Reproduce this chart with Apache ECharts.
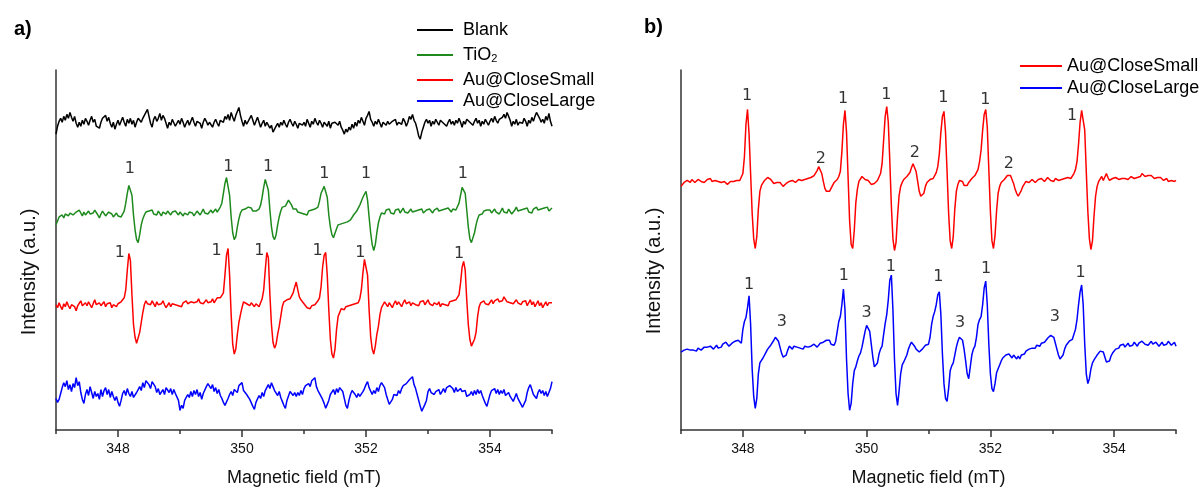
<!DOCTYPE html>
<html>
<head>
<meta charset="utf-8">
<script src="https://cdn.jsdelivr.net/npm/echarts@6/dist/echarts.min.js"></script>
<style>
  html, body { margin: 0; padding: 0; background: #ffffff; }
  #chart { width: 1199px; height: 492px; }
</style>
</head>
<body>
<div id="chart"></div>
<script>
// EPR spectra (DMPO spin adducts), two panels, stacked traces.
// Field grid: 347–355 mT sampled every 0.025 mT (321 points per trace).
const FIELD_START = 347;
const FIELD_END = 355;
const FIELD_STEP = 0.025;

const fieldTickValues = [348, 350, 352, 354];
const fieldMinorTickValues = [347, 349, 351, 353, 355];

const namesA = ['Blank', 'TiO2', 'Au@CloseSmall', 'Au@CloseLarge'];
const namesB = ['Au@CloseSmall', 'Au@CloseLarge'];
const colorsA = ['#000000', '#1e8a1e', '#ff0000', '#0000ff'];
const colorsB = ['#ff0000', '#0000ff'];

// vertical stacking offsets of each trace (intensity, a.u.)
const offsetsA = [310, 218, 127, 35];
const offsetsB = [252, 82];

// ---- panel a ----
const blankA = [
  -10,-2,3,6,2,8,4,10,6,12, 7,3,8,1,-3,2,-2,4,0,6, 3,-1,4,8,2,5,-2,0,-4,2, 6,4,9,3,7,1,-3,2,-5,0,
  4,-1,3,7,2,-2,5,1,6,0, 4,-3,2,6,5,2,6,9,12,15, 8,1,-3,5,8,3,6,11,4,9, 6,1,-4,2,-1,5,3,-2,1,4,
  0,6,2,-3,1,4,-1,3,7,2, -2,3,5,1,-4,2,6,3,-1,2, 0,-3,2,5,1,-2,4,6,2,8, 5,10,4,12,7,3,9,13,17,9,
  3,-2,4,0,2,6,9,4,-1,3, 7,2,-3,1,4,-2,2,0,-4,-1, -8,-5,-2,1,-3,2,-1,4,0,-3, 2,5,1,-2,3,0,-4,1,3,-1,
  2,-2,5,1,-3,3,0,6,2,-1, 4,1,-3,2,0,-2,3,-4,1,-1, 2,4,-1,3,-3,-6,-10,-5,-8,-3, -6,0,-4,2,-2,4,1,7,3,-1,
  6,9,13,5,2,-2,3,0,5,1, -3,2,4,-1,3,0,-2,3,1,5, -1,2,4,0,6,3,-2,2,8,5, 10,4,1,-5,-12,-15,-8,-3,2,5,
  1,4,-2,3,0,5,2,-1,4,6, 1,3,-2,2,5,0,3,-1,4,1, 6,2,-3,3,0,5,7,2,4,-1, 3,6,1,4,-2,3,0,5,2,-1,
  3,6,2,8,4,1,5,3,7,10, 6,12,8,4,-2,3,0,5,-1,2, 4,1,6,3,-2,4,1,7,3,8, 12,14,6,2,5,1,8,4,11,3,
  -2
];

const tio2A = [
  -10,-6,-2,-4,0,-3,1,3,-1,2, 4,0,-2,3,1,5,2,-1,3,0, -2,4,1,-1,2,5,3,0,-3,1, 4,2,-1,0,3,5,1,-2,0,2,
  -1,1,-2,0,4,12,22,30,32,20, 0,-15,-25,-28,-20,-10,-4,0,3,1, 4,2,5,1,3,0,4,2,-1,3, 5,1,4,2,0,3,1,4,2,0,
  3,1,-1,2,4,0,3,5,2,-1, 1,4,2,0,3,6,2,4,1,3, 5,2,4,6,3,5,8,12,22,32, 38,36,20,-2,-18,-25,-22,-12,-4,2,
  5,3,6,4,8,10,7,4,2,4, 3,6,10,18,28,36,37,25,5,-12, -22,-25,-20,-10,-2,4,8,6,9,12, 15,14,10,6,4,6,3,5,2,4,
  1,3,0,4,2,5,3,6,4,8, 14,22,24,29,30,18,0,-12,-20,-23, -21,-14,-10,-12,-9,-11,-8,-10,-7,-9, -5,-3,0,2,4,7,10,14,18,21,
  24,15,-2,-18,-30,-36,-30,-18,-8,-2, 2,4,1,5,3,6,2,4,1,5, 3,6,2,4,7,3,5,2,4,6, 3,1,4,2,5,3,6,2,4,5,
  3,6,4,2,5,3,7,4,2,5, 3,6,4,7,5,3,6,8,5,7, 12,20,28,30,22,5,-12,-24,-28,-26, -18,-10,-4,0,2,1,4,2,5,3,
  5,2,4,6,3,5,1,4,7,3, 5,2,6,4,1,3,5,8,4,2, 5,3,6,4,7,3,5,2,6,4, 8,5,3,6,4,7,5,8,4,6,
  7
];

const smallA = [
  0,-3,2,-2,-5,1,-2,3,-1,-4, 0,2,-2,-6,-1,1,4,-1,-3,2, -1,3,0,-3,1,5,0,-2,2,-1, 0,3,-2,1,-1,2,-3,0,1,-2,
  1,-1,3,5,7,15,35,52,45,10, -20,-33,-39,-37,-28,-18,-8,0,4,1, 3,0,4,2,-2,3,0,-2,1,4, 0,-3,-1,2,-2,1,3,0,2,-1,
  1,-2,2,0,4,1,-1,3,5,2, 0,3,6,2,4,1,3,5,2,4, 3,6,2,4,7,5,7,7,12,30, 50,57,30,-10,-40,-50,-45,-30,-18,-10,
  -3,3,5,1,3,-1,2,0,-2,1, -1,-2,2,6,15,35,53,48,10,-20, -38,-44,-40,-30,-22,-12,-2,3,2,5, 3,6,8,12,18,23,15,8,5,3,
  1,-1,-3,-2,-4,-1,-3,0,2,4, 7,18,38,50,53,30,-5,-35,-50,-54, -45,-25,-12,-8,-4,-3,-5,-2,-4,-1, -3,0,-2,1,3,2,6,15,32,46,
  48,30,-5,-32,-45,-50,-42,-30,-22,-10, -3,0,3,1,-2,2,0,-3,1,4, 0,3,1,-2,2,5,1,0,3,-1, 2,4,0,2,-1,3,1,4,0,2,
  5,1,3,-1,2,4,0,3,-2,1, 3,0,2,-1,3,1,4,2,5,7, 10,22,38,44,35,5,-20,-35,-42,-43, -35,-28,-12,-2,2,0,4,1,3,0,
  2,5,1,4,2,6,3,5,4,8, 6,3,5,2,4,1,3,5,2,4, 0,3,1,4,-1,2,5,0,3,-2, 1,4,-1,2,-3,0,3,-1,2,4,
  2
];

const largeA = [
  -3,-7,-4,2,8,13,9,15,6,11, 4,12,8,18,10,14,3,-4,-8,1, 6,0,9,3,-3,4,-1,2,-4,6, -1,5,8,1,6,-2,4,-1,-5,-1,
  -7,-11,-5,2,5,0,7,2,-1,4, -2,-4,3,6,9,5,13,8,15,17, 11,7,14,12,9,3,7,1,-1,6, 1,8,10,3,7,1,6,2,3,-5,
  -15,-10,-13,-5,-7,1,-2,4,-1,5, 1,6,-1,3,-4,2,4,9,12,14, 7,11,4,8,2,6,0,-3,-7,-10, -12,-3,1,4,0,6,8,3,10,12,
  13,5,7,1,2,-4,-6,-11,-14,-7, -5,0,-3,3,-1,5,8,11,7,13, 9,5,3,0,4,-2,-6,-10,-13,-5, -3,4,2,0,3,-1,3,0,5,1,
  7,10,8,12,9,15,13,18,9,5, 3,-1,-4,-8,-13,-9,-5,1,2,6, 1,7,3,8,7,4,-3,-10,-13,-5, 1,5,7,1,-2,2,-1,-3,4,7,
  11,14,8,6,1,5,2,8,4,10, 13,11,8,1,-4,-9,-11,-4,1,2, 0,5,2,7,10,9,12,10,16,14, 19,11,7,1,-5,-11,-16,-18,-9,-5,
  4,7,3,5,1,4,2,6,1,4, 7,3,8,6,10,8,7,3,8,4, 2,7,4,3,5,-1,-3,1,4,0, 5,1,6,2,5,0,-4,-8,-11,-5,
  1,5,3,7,2,6,1,5,2,6, 0,-2,3,-1,-3,-6,-2,2,-3,-5, -9,-12,-14,-5,3,8,11,6,1,-1, -3,3,6,2,5,0,4,-1,3,7,
  14
];

// ---- panel b ----
const smallB = [
  -5,-3,-1,-2,1,0,-1,2,1,-1, 0,2,3,0,1,-1,0,2,1,3, 0,-1,1,2,0,-2,-1,1,0,-1, -3,-1,0,1,0,2,1,0,1,3,
  8,25,58,73,48,8,-32,-58,-68,-56, -28,-10,-4,-2,1,3,4,5,2,0, -2,-4,-1,-3,-1,-3,-5,-4,-2,-1, 0,-2,1,0,-1,1,2,0,1,3,
  2,1,3,2,4,3,6,8,11,15, 14,8,0,-7,-10,-11,-10,-7,-4,-1, 0,2,5,10,30,58,72,50,5,-40, -64,-68,-50,-22,-8,0,2,5,3,2,
  4,1,-1,-3,-4,-2,0,1,3,8, 18,42,66,76,60,20,-25,-58,-70,-62, -35,-14,-5,-1,2,4,5,6,9,14, 18,17,10,0,-10,-15,-17,-12,-5,-1,
  0,2,1,3,5,9,15,28,50,66, 71,50,10,-32,-60,-68,-56,-28,-10,-3, 1,2,0,-4,-6,-4,-1,1,3,4, 6,8,12,20,32,52,68,73,55,12,
  -30,-60,-68,-55,-30,-12,-5,-1,1,2, 4,6,8,6,2,-2,-8,-12,-15,-14, -9,-5,-3,0,1,-1,0,2,1,-1, 0,2,1,3,2,0,2,4,3,1,
  2,0,3,2,1,3,2,1,3,2, 4,2,3,5,8,12,20,38,60,72, 74,52,10,-30,-58,-69,-60,-35,-15,-5, 0,2,5,1,3,8,4,1,2,3,
  2,4,3,2,4,3,1,3,4,2, 3,5,4,3,5,4,6,5,8,6, 5,7,6,4,6,5,3,5,4,2, 4,3,1,2,3,0,-1,1,2,0,
  1
];

const largeB = [
  -3,-4,-1,-3,0,-2,-1,1,-1,0, -2,1,0,-1,1,2,0,2,1,3, 1,0,2,4,1,3,2,5,4,7, 5,3,5,6,4,8,7,9,8,6,
  20,28,32,42,54,25,-20,-48,-60,-50, -25,-14,-12,-9,-7,-3,0,2,4,6, 9,12,13,8,2,-4,-8,-10,-6,-1, 3,2,0,3,1,2,4,1,2,0,
  3,1,2,0,3,2,5,3,2,4, 6,5,7,8,9,7,9,5,3,4, 8,18,28,33,45,61,40,-10,-45,-62, -55,-35,-22,-18,-12,-7,-4,2,10,18,
  24,25,18,5,-8,-18,-20,-14,-5,0, 3,15,26,35,50,70,75,40,-10,-45, -57,-42,-25,-16,-13,-11,-6,0,4,7, 6,3,0,-1,-3,-2,0,2,4,3,
  5,12,25,33,38,45,55,58,35,-5, -35,-50,-53,-40,-22,-17,-14,-6,2,8, 12,13,9,0,-12,-25,-30,-18,-6,0, 3,12,25,30,33,45,62,69,45,5,
  -25,-40,-43,-35,-24,-20,-16,-12,-9,-7, -6,-8,-5,-7,-9,-6,-8,-10,-7,-10, -6,-4,-5,-2,-3,0,-1,1,2,1, 4,5,3,6,8,7,9,11,13,14,
  15,12,6,0,-6,-10,-11,-6,0,4, 6,8,7,10,12,20,30,45,58,65, 45,5,-25,-35,-30,-20,-14,-11,-9,-6, -4,-2,-1,-3,-8,-13,-15,-12,-7,-4,
  -3,0,2,1,4,3,5,2,4,6, 3,5,4,7,5,3,6,4,8,6, 5,7,4,6,8,5,4,7,6,3, 5,7,4,6,5,8,6,4,6,7,
  3
];

// peak assignments: [field (mT), height above the trace baseline, text]
const peakLabelsTio2A = [[348.19, 47, '1'], [349.78, 49, '1'], [350.42, 49, '1'], [351.33, 42, '1'], [352.0, 42, '1'], [353.56, 42, '1']];
const peakLabelsSmallA = [[348.03, 53, '1'], [349.59, 55, '1'], [350.28, 55, '1'], [351.22, 55, '1'], [351.91, 53, '1'], [353.5, 52, '1']];
const peakLabelsSmallB = [[348.07, 87, '1'], [349.62, 84, '1'], [350.32, 88, '1'], [351.24, 85, '1'], [351.92, 83, '1'], [353.32, 67, '1'],
                          [349.26, 23, '2'], [350.78, 29, '2'], [352.3, 18, '2']];
const peakLabelsLargeB = [[348.1, 65, '1'], [349.63, 74, '1'], [350.39, 83, '1'], [351.16, 73, '1'], [351.93, 81, '1'], [353.46, 77, '1'],
                          [348.63, 28, '3'], [350.0, 37, '3'], [351.51, 27, '3'], [353.04, 33, '3']];

const tracesA = [blankA, tio2A, smallA, largeA];
const tracesB = [smallB, largeB];

function toPoints(values, offset) {
  return values.map((v, i) => [+(FIELD_START + i * FIELD_STEP).toFixed(3), v + offset]);
}

const AXIS_COLOR = '#333333';
const TEXT_COLOR = '#000000';
const FONT = '"Liberation Sans", Arial, sans-serif';

function fieldAxes(gridIndex) {
  return [
    {
      gridIndex, type: 'value', min: FIELD_START, max: FIELD_END, interval: 1,
      axisLine: { show: true, onZero: false, lineStyle: { color: AXIS_COLOR, width: 1.5 } },
      axisTick: { show: true, customValues: fieldTickValues, length: 7, lineStyle: { color: AXIS_COLOR, width: 1.5 } },
      axisLabel: { show: true, customValues: fieldTickValues, margin: 12, fontSize: 14, color: '#111', fontFamily: FONT },
      splitLine: { show: false },
      name: 'Magnetic field (mT)', nameLocation: 'middle', nameGap: 39,
      nameTextStyle: { fontSize: 18, color: '#111', fontFamily: FONT }
    },
    {
      gridIndex, type: 'value', min: FIELD_START, max: FIELD_END, interval: 1, position: 'bottom',
      axisLine: { show: false, onZero: false },
      axisTick: { show: true, customValues: fieldMinorTickValues, length: 4, lineStyle: { color: AXIS_COLOR, width: 1.5 } },
      axisLabel: { show: false },
      splitLine: { show: false }
    }
  ];
}

function intensityAxis(gridIndex) {
  return {
    gridIndex, type: 'value', min: 0, max: 365,
    axisLine: { show: true, onZero: false, lineStyle: { color: AXIS_COLOR, width: 1.5 } },
    axisTick: { show: false }, axisLabel: { show: false }, splitLine: { show: false }
  };
}

function lineSeries(name, values, offset, color, axisIdx) {
  return {
    name, type: 'line', xAxisIndex: axisIdx, yAxisIndex: axisIdx / 2,
    data: toPoints(values, offset),
    showSymbol: false, symbol: 'none', silent: true,
    lineStyle: { color, width: 1.5 }, itemStyle: { color },
    z: 3
  };
}

function labelSeries(labels, offset, axisIdx) {
  return {
    type: 'scatter', xAxisIndex: axisIdx, yAxisIndex: axisIdx / 2,
    symbolSize: 1, silent: true, itemStyle: { color: 'transparent' },
    data: labels.map(([f, h, t]) => ({ value: [f, h + offset], label: { formatter: t } })),
    label: { show: true, position: 'inside', color: TEXT_COLOR, fontSize: 16, fontFamily: '"DejaVu Sans", sans-serif' },
    z: 4
  };
}

const series = [];
namesA.forEach((n, k) => series.push(lineSeries(n, tracesA[k], offsetsA[k], colorsA[k], 0)));
namesB.forEach((n, k) => series.push(lineSeries(n, tracesB[k], offsetsB[k], colorsB[k], 2)));
series.push(labelSeries(peakLabelsTio2A, offsetsA[1], 0));
series.push(labelSeries(peakLabelsSmallA, offsetsA[2], 0));
series.push(labelSeries(peakLabelsSmallB, offsetsB[0], 2));
series.push(labelSeries(peakLabelsLargeB, offsetsB[1], 2));

function legendItem(name, left, top, width, textGap) {
  return {
    data: [name], left, top, orient: 'vertical', padding: 0,
    icon: 'rect', itemWidth: width, itemHeight: 2,
    selectedMode: false,
    formatter: (nm) => nm === 'TiO2' ? 'TiO{sub|2}' : nm,
    textStyle: {
      fontSize: 18, lineHeight: 18, color: TEXT_COLOR, fontFamily: FONT, padding: [0, 0, 0, textGap],
      rich: { sub: { fontSize: 11, lineHeight: 11, verticalAlign: 'bottom', padding: [14, 0, 0, 0], fontFamily: FONT, color: TEXT_COLOR } }
    }
  };
}

const legendTopsA = [21, 39, 71, 92];
const legendTopsB = [57, 79];

const option = {
  animation: false,
  backgroundColor: '#ffffff',
  title: [
    { text: 'a)', left: 9, top: 14, textStyle: { fontSize: 20, fontWeight: 'bold', color: '#000', fontFamily: FONT } },
    { text: 'b)', left: 639, top: 12, textStyle: { fontSize: 20, fontWeight: 'bold', color: '#000', fontFamily: FONT } }
  ],
  grid: [
    { left: 56, top: 70, width: 496, height: 365 },
    { left: 681, top: 70, width: 495, height: 365 }
  ],
  xAxis: [...fieldAxes(0), ...fieldAxes(1)],
  yAxis: [intensityAxis(0), intensityAxis(1)],
  legend: [
    ...namesA.map((n, k) => legendItem(n, 417, legendTopsA[k], 36, 5)),
    ...namesB.map((n, k) => legendItem(n, 1020, legendTopsB[k], 42, 0))
  ],
  graphic: [
    { type: 'text', x: 29, y: 272, rotation: Math.PI / 2,
      style: { text: 'Intensity (a.u.)', fontSize: 20, fontFamily: FONT, fill: '#111', align: 'center', verticalAlign: 'middle', textAlign: 'center', textVerticalAlign: 'middle' } },
    { type: 'text', x: 654, y: 271, rotation: Math.PI / 2,
      style: { text: 'Intensity (a.u.)', fontSize: 20, fontFamily: FONT, fill: '#111', align: 'center', verticalAlign: 'middle', textAlign: 'center', textVerticalAlign: 'middle' } }
  ],
  series
};

const chart = echarts.init(document.getElementById('chart'), null, { renderer: 'canvas' });
chart.setOption(option);
</script>
</body>
</html>
